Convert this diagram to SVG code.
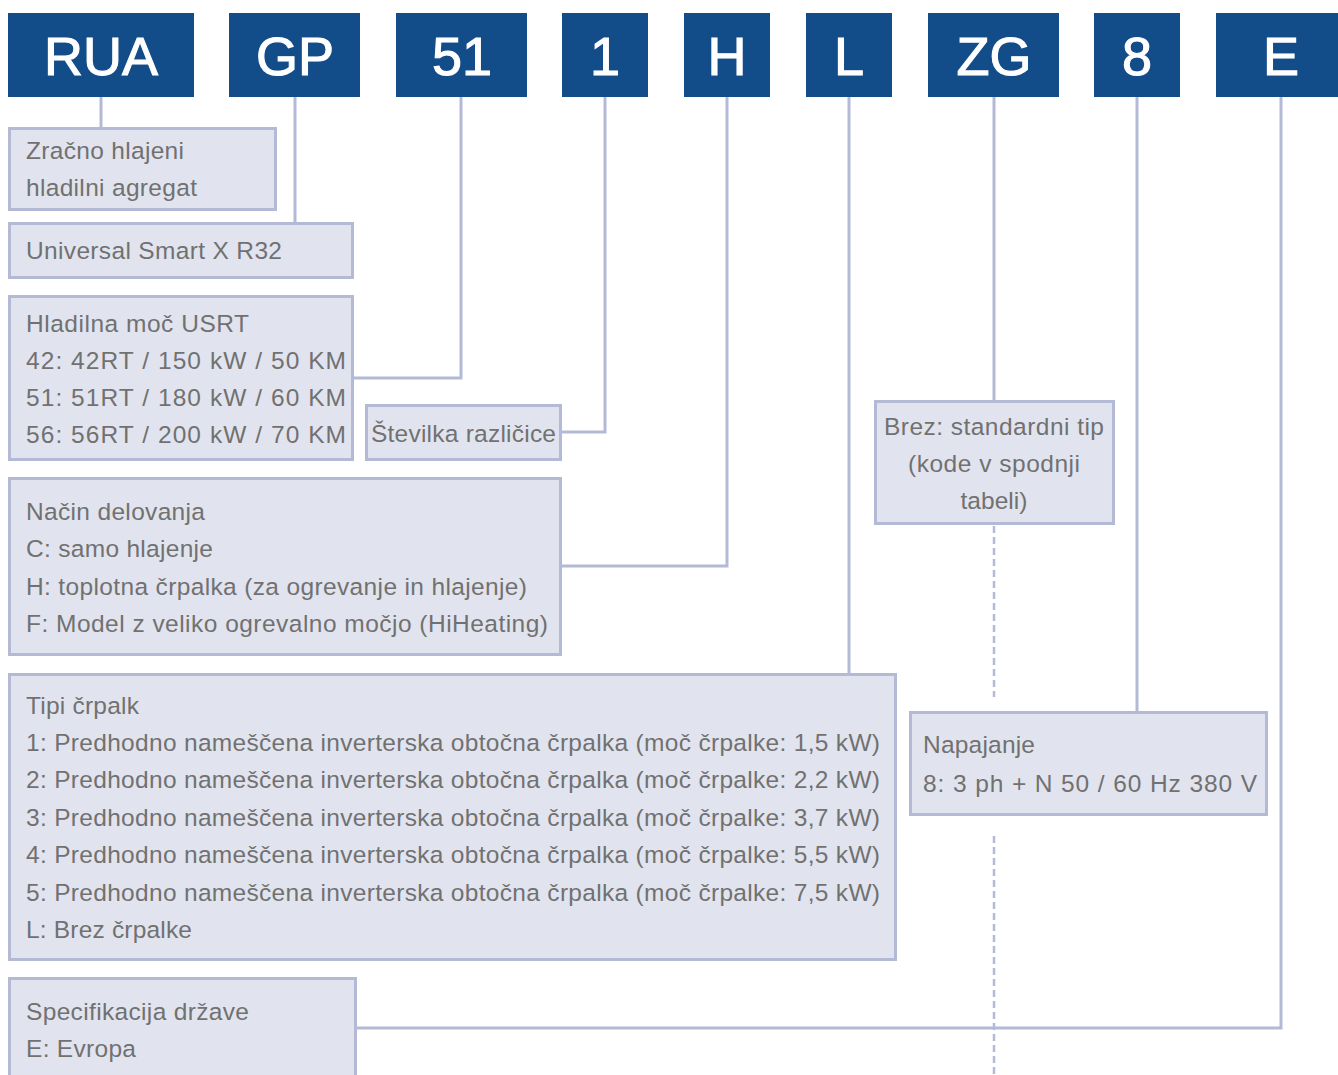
<svg xmlns="http://www.w3.org/2000/svg" width="1338" height="1075" viewBox="0 0 1338 1075">
  <style>
    .hdr { fill: #124c89; }
    .hdr-t { fill: #ffffff; stroke: #ffffff; stroke-width: 1.1; font-family: "Liberation Sans", Arial, sans-serif; font-size: 54px; text-anchor: middle; }
    .box { fill: #e1e4ee; stroke: #b4b9d6; stroke-width: 3; }
    .t { fill: #717171; font-family: "Liberation Sans", Arial, sans-serif; font-size: 24.5px; }
    .c { text-anchor: middle; }
    .link { fill: none; stroke: #b4b9d6; stroke-width: 3; }
    .dash { fill: none; stroke: #b4b9d6; stroke-width: 2.5; stroke-dasharray: 7 4; }
  </style>

  <!-- connectors -->
  <g id="connectors">
    <line class="link" x1="101" y1="97" x2="101" y2="128"/>
    <line class="link" x1="295" y1="97" x2="295" y2="222"/>
    <polyline class="link" points="461,97 461,378 354,378"/>
    <polyline class="link" points="605,97 605,432 562,432"/>
    <polyline class="link" points="727,97 727,566 562,566"/>
    <line class="link" x1="849" y1="97" x2="849" y2="673"/>
    <line class="link" x1="994" y1="97" x2="994" y2="400"/>
    <line class="link" x1="1137" y1="97" x2="1137" y2="712"/>
    <polyline class="link" points="1281,97 1281,1028 356,1028"/>
    <line class="dash" x1="994" y1="526" x2="994" y2="697"/>
    <line class="dash" x1="994" y1="836" x2="994" y2="1075"/>
  </g>

  <!-- code segments -->
  <g id="code-RUA"><rect class="hdr" x="8" y="13" width="186" height="84"/><text class="hdr-t" x="101" y="75">RUA</text></g>
  <g id="code-GP"><rect class="hdr" x="229" y="13" width="131" height="84"/><text class="hdr-t" x="295" y="75">GP</text></g>
  <g id="code-51"><rect class="hdr" x="396" y="13" width="131" height="84"/><text class="hdr-t" x="462" y="75">51</text></g>
  <g id="code-1"><rect class="hdr" x="562" y="13" width="86" height="84"/><text class="hdr-t" x="605" y="75">1</text></g>
  <g id="code-H"><rect class="hdr" x="684" y="13" width="86" height="84"/><text class="hdr-t" x="727" y="75">H</text></g>
  <g id="code-L"><rect class="hdr" x="806" y="13" width="86" height="84"/><text class="hdr-t" x="849" y="75">L</text></g>
  <g id="code-ZG"><rect class="hdr" x="928" y="13" width="131" height="84"/><text class="hdr-t" x="994" y="75">ZG</text></g>
  <g id="code-8"><rect class="hdr" x="1094" y="13" width="86" height="84"/><text class="hdr-t" x="1137" y="75">8</text></g>
  <g id="code-E"><rect class="hdr" x="1216" y="13" width="130" height="84"/><text class="hdr-t" x="1281" y="75">E</text></g>

  <!-- descriptions -->
  <g id="desc-type">
    <rect class="box" x="9.5" y="128.5" width="266" height="81"/>
    <text class="t" x="26" y="159" textLength="158">Zračno hlajeni</text>
    <text class="t" x="26" y="196" textLength="171">hladilni agregat</text>
  </g>
  <g id="desc-series">
    <rect class="box" x="9.5" y="223.5" width="343" height="54"/>
    <text class="t" x="26" y="259" textLength="256">Universal Smart X R32</text>
  </g>
  <g id="desc-capacity">
    <rect class="box" x="9.5" y="296.5" width="343" height="163"/>
    <text class="t" x="26" y="332" textLength="223">Hladilna moč USRT</text>
    <text class="t" x="26" y="369" textLength="320">42: 42RT / 150 kW / 50 KM</text>
    <text class="t" x="26" y="406" textLength="320">51: 51RT / 180 kW / 60 KM</text>
    <text class="t" x="26" y="443" textLength="320">56: 56RT / 200 kW / 70 KM</text>
  </g>
  <g id="desc-version">
    <rect class="box" x="366.5" y="405.5" width="194" height="54"/>
    <text class="t" x="371" y="442" textLength="185">Številka različice</text>
  </g>
  <g id="desc-mode">
    <rect class="box" x="9.5" y="478.5" width="551" height="176"/>
    <text class="t" x="26" y="520" textLength="179">Način delovanja</text>
    <text class="t" x="26" y="557" textLength="187">C: samo hlajenje</text>
    <text class="t" x="26" y="595" textLength="501">H: toplotna črpalka (za ogrevanje in hlajenje)</text>
    <text class="t" x="26" y="632" textLength="522">F: Model z veliko ogrevalno močjo (HiHeating)</text>
  </g>
  <g id="desc-pump">
    <rect class="box" x="9.5" y="674.5" width="886" height="285"/>
    <text class="t" x="26" y="714" textLength="113">Tipi črpalk</text>
    <text class="t" x="26" y="751" textLength="854">1: Predhodno nameščena inverterska obtočna črpalka (moč črpalke: 1,5 kW)</text>
    <text class="t" x="26" y="788" textLength="854">2: Predhodno nameščena inverterska obtočna črpalka (moč črpalke: 2,2 kW)</text>
    <text class="t" x="26" y="826" textLength="854">3: Predhodno nameščena inverterska obtočna črpalka (moč črpalke: 3,7 kW)</text>
    <text class="t" x="26" y="863" textLength="854">4: Predhodno nameščena inverterska obtočna črpalka (moč črpalke: 5,5 kW)</text>
    <text class="t" x="26" y="901" textLength="854">5: Predhodno nameščena inverterska obtočna črpalka (moč črpalke: 7,5 kW)</text>
    <text class="t" x="26" y="938" textLength="166">L: Brez črpalke</text>
  </g>
  <g id="desc-variant">
    <rect class="box" x="875.5" y="401.5" width="238" height="122"/>
    <text class="t c" x="994" y="435" textLength="220">Brez: standardni tip</text>
    <text class="t c" x="994" y="472" textLength="172">(kode v spodnji</text>
    <text class="t c" x="994" y="509" textLength="67">tabeli)</text>
  </g>
  <g id="desc-power">
    <rect class="box" x="910.5" y="712.5" width="356" height="102"/>
    <text class="t" x="923" y="753" textLength="112">Napajanje</text>
    <text class="t" x="923" y="792" textLength="334">8: 3 ph + N 50 / 60 Hz 380 V</text>
  </g>
  <g id="desc-country">
    <rect class="box" x="9.5" y="978.5" width="346" height="110"/>
    <text class="t" x="26" y="1020" textLength="223">Specifikacija države</text>
    <text class="t" x="26" y="1057" textLength="110">E: Evropa</text>
  </g>
</svg>
